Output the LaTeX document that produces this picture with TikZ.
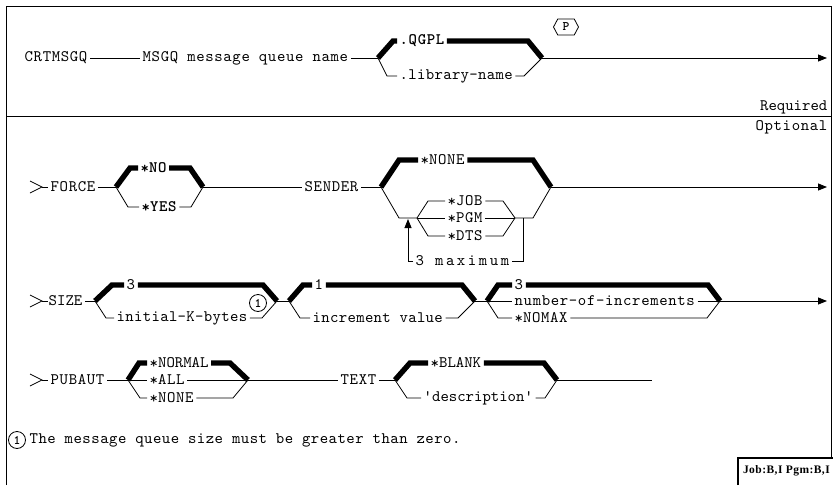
\documentclass[tikz,border=0pt]{standalone}
\usepackage{fontspec}
\usepackage{tikz}
\usetikzlibrary{arrows.meta,shapes.symbols,positioning}
\newfontfamily\railfont{lmmono10-regular.otf}[LetterSpace=4,BoldFont=lmmonolt10-bold.otf]
\newfontfamily\jobfont{Liberation Serif}[LetterSpace=4]
\newcommand{\stx}{\raisebox{-0.2ex}{*}}

\begin{document}
\begin{tikzpicture}[x=1pt,y=-1pt,
    rail/.style={line width=0.8pt},
    dflt/.style={line width=5.4pt,line join=miter},
    lbl/.style={anchor=west,inner sep=2.5pt,font=\railfont\fontsize{16}{17}\selectfont},
    lblb/.style={lbl,font=\railfont\bfseries\fontsize{16}{17}\selectfont},
    spc/.style={font=\railfont\addfontfeature{LetterSpace=#1}\fontsize{16}{17}\selectfont},
    note/.style={draw,circle,line width=0.8pt,inner sep=0pt,minimum size=17pt,font=\railfont\bfseries\fontsize{13}{13}\selectfont},
    tip/.style={-{Triangle[length=9pt,width=7pt]}}]
  \useasboundingbox (0,0) rectangle (833,485);
  \draw[rail] (6,485) -- (6,6) -- (831,6) -- (831,458);
  \draw[rail] (6,116) -- (831,116);
  \draw[line width=1.2pt] (738,485) -- (738,458) -- (833,458);
  \node[lbl,spc=0,anchor=east] (req) at (830,107) {Required};
  \node[lbl,anchor=east] (opt) at (830,127) {Optional};
  \node[anchor=east,inner sep=1pt,font=\jobfont\bfseries\fontsize{11.5}{12}\selectfont] (jobpgm) at (831,471) {Job:B,I Pgm:B,I};
  \foreach \y in {187,301,380}{
    \draw[rail] (30,\y-6) -- (42,\y) -- (30,\y+6);
    \draw[rail] (42,\y) -- (48,\y);
  }

  \node[lbl] (crt) at (22,58) {CRTMSGQ};
  \node[lbl] (msgq) at (140,58) {MSGQ message queue name};
  \coordinate (j1) at (378,58);
  \coordinate (j2) at (542,58);
  \draw[rail] (crt.east) -- (msgq.west);
  \draw[rail] (msgq.east) -- (j1);
  \node[lblb] (qgpl) at (397,41) {.QGPL};
  \node[lbl,spc=2] (lib) at (397,76) {.library-name};
  \draw[dflt] (j1) -- (393,41) -- (qgpl.west);
  \draw[dflt] (qgpl.east) -- (528,41) -- (j2);
  \draw[rail] (j1) -- (387,76) -- (lib.west);
  \draw[rail] (lib.east) -- (524,76) -- (j2);
  \node[draw,rail,signal,signal to=west and east,signal pointer angle=124,
        minimum width=25pt,minimum height=16pt,inner sep=1pt,
        font=\railfont\bfseries\fontsize{13}{13}\selectfont] (pfx) at (566,27) {P};
  \draw[rail,tip] (j2) -- (827,58);

  \node[lbl] (force) at (48,187) {FORCE};
  \coordinate (fj1) at (116,187);
  \coordinate (fj2) at (203,187);
  \draw[rail] (force.east) -- (fj1);
  \node[lblb] (no) at (138,168) {\stx NO};
  \node[lblb] (yes) at (139,207) {\stx YES};
  \draw[dflt] (fj1) -- (130,168) -- (no.west);
  \draw[dflt] (no.east) -- (190,168) -- (fj2);
  \draw[rail] (fj1) -- (128,207) -- (yes.west);
  \draw[rail] (yes.east) -- (191,207) -- (fj2);
  \node[lbl] (sender) at (302,187) {SENDER};
  \draw[rail] (fj2) -- (sender.west);
  \coordinate (sj1) at (381,187);
  \coordinate (sj2) at (551,187);
  \draw[rail] (sender.east) -- (sj1);
  \node[lbl] (snone) at (418,160) {\stx NONE};
  \draw[dflt] (sj1) -- (399,160) -- (snone.west);
  \draw[dflt] (snone.east) -- (533,160) -- (sj2);
  \coordinate (rj1) at (417,218);
  \coordinate (rj2) at (515,218);
  \draw[rail] (sj1) -- (399,218) -- (rj1);
  \node[lbl] (job) at (445,201) {\stx JOB};
  \node[lbl] (pgm) at (445,218) {\stx PGM};
  \node[lbl] (dts) at (445,236) {\stx DTS};
  \draw[rail] (rj1) -- (428,201) -- (job.west);
  \draw[rail] (job.east) -- (503,201) -- (rj2);
  \draw[rail] (rj1) -- (pgm.west);
  \draw[rail] (pgm.east) -- (rj2);
  \draw[rail] (rj1) -- (428,236) -- (dts.west);
  \draw[rail] (dts.east) -- (503,236) -- (rj2);
  \draw[rail] (rj2) -- (533,218) -- (sj2);
  \node[lbl,spc=16] (maxi) at (413,261) {3 maximum};
  \draw[rail] (523,218) -- (523,261) -- (maxi.east);
  \draw[rail,tip] (maxi.west) -- (408,261) -- (408,219);
  \draw[rail,tip] (sj2) -- (827,187);

  \node[lbl,spc=0] (size) at (46,301) {SIZE};
  \coordinate (zj1) at (95,301);
  \coordinate (zj2) at (277,301);
  \draw[rail] (size.east) -- (zj1);
  \node[lbl] (kb3) at (124,285) {3};
  \node[lbl,spc=2] (ikb) at (114,318) {initial-K-bytes};
  \draw[dflt] (zj1) -- (112,285) -- (kb3.west);
  \draw[dflt] (kb3.east) -- (263,285) -- (zj2);
  \draw[rail] (zj1) -- (106,318) -- (ikb.west);
  \draw[rail] (ikb.east) -- (262,318) -- (zj2);
  \node[note] (n1) at (258,303) {1};
  \coordinate (ij1) at (289,301);
  \coordinate (ij2) at (475,301);
  \draw[rail] (zj2) -- (ij1);
  \node[lbl] (inc1) at (312,285) {1};
  \node[lbl,spc=2] (incv) at (310,318) {increment value};
  \draw[dflt] (ij1) -- (303,285) -- (inc1.west);
  \draw[dflt] (inc1.east) -- (462,285) -- (ij2);
  \draw[rail] (ij1) -- (300,318) -- (incv.west);
  \draw[rail] (incv.east) -- (458,318) -- (ij2);
  \coordinate (nj1) at (487,301);
  \coordinate (nj2) at (720,301);
  \draw[rail] (ij2) -- (nj1);
  \node[lbl] (num3) at (512,285) {3};
  \node[lbl] (noi) at (512,301) {number-of-increments};
  \node[lbl] (nomax) at (512,318) {\stx NOMAX};
  \draw[dflt] (nj1) -- (498,285) -- (num3.west);
  \draw[dflt] (num3.east) -- (708,285) -- (nj2);
  \draw[rail] (nj1) -- (noi.west);
  \draw[rail] (noi.east) -- (nj2);
  \draw[rail] (nj1) -- (498,318) -- (nomax.west);
  \draw[rail] (nomax.east) -- (707,318) -- (nj2);
  \draw[rail,tip] (nj2) -- (827,301);

  \node[lbl] (pub) at (48,380) {PUBAUT};
  \coordinate (pj1) at (128,380);
  \coordinate (pj2) at (248,380);
  \draw[rail] (pub.east) -- (pj1);
  \node[lbl,spc=0] (normal) at (147,363) {\stx NORMAL};
  \node[lbl] (all) at (147,380) {\stx ALL};
  \node[lbl] (pnone) at (147,398) {\stx NONE};
  \draw[dflt] (pj1) -- (139,363) -- (normal.west);
  \draw[dflt] (normal.east) -- (230,363) -- (pj2);
  \draw[rail] (pj1) -- (all.west);
  \draw[rail] (all.east) -- (pj2);
  \draw[rail] (pj1) -- (140,398) -- (pnone.west);
  \draw[rail] (pnone.east) -- (233,398) -- (pj2);
  \node[lbl] (text) at (338,380) {TEXT};
  \draw[rail] (pj2) -- (text.west);
  \coordinate (tj1) at (395,380);
  \coordinate (tj2) at (557,380);
  \draw[rail] (text.east) -- (tj1);
  \node[lbl,spc=0] (blank) at (428,363) {\stx BLANK};
  \node[lbl,spc=0] (desc) at (421,398) {'description'};
  \draw[dflt] (tj1) -- (410,363) -- (blank.west);
  \draw[dflt] (blank.east) -- (544,363) -- (tj2);
  \draw[rail] (tj1) -- (407,398) -- (desc.west);
  \draw[rail] (desc.east) -- (545,398) -- (tj2);
  \coordinate (tend) at (652,380);
  \draw[rail] (tj2) -- (tend);

  \node[note] (fn) at (17,440) {1};
  \node[lbl,spc=3] (fntext) at (27,440) {The message queue size must be greater than zero.};
\end{tikzpicture}
\end{document}
